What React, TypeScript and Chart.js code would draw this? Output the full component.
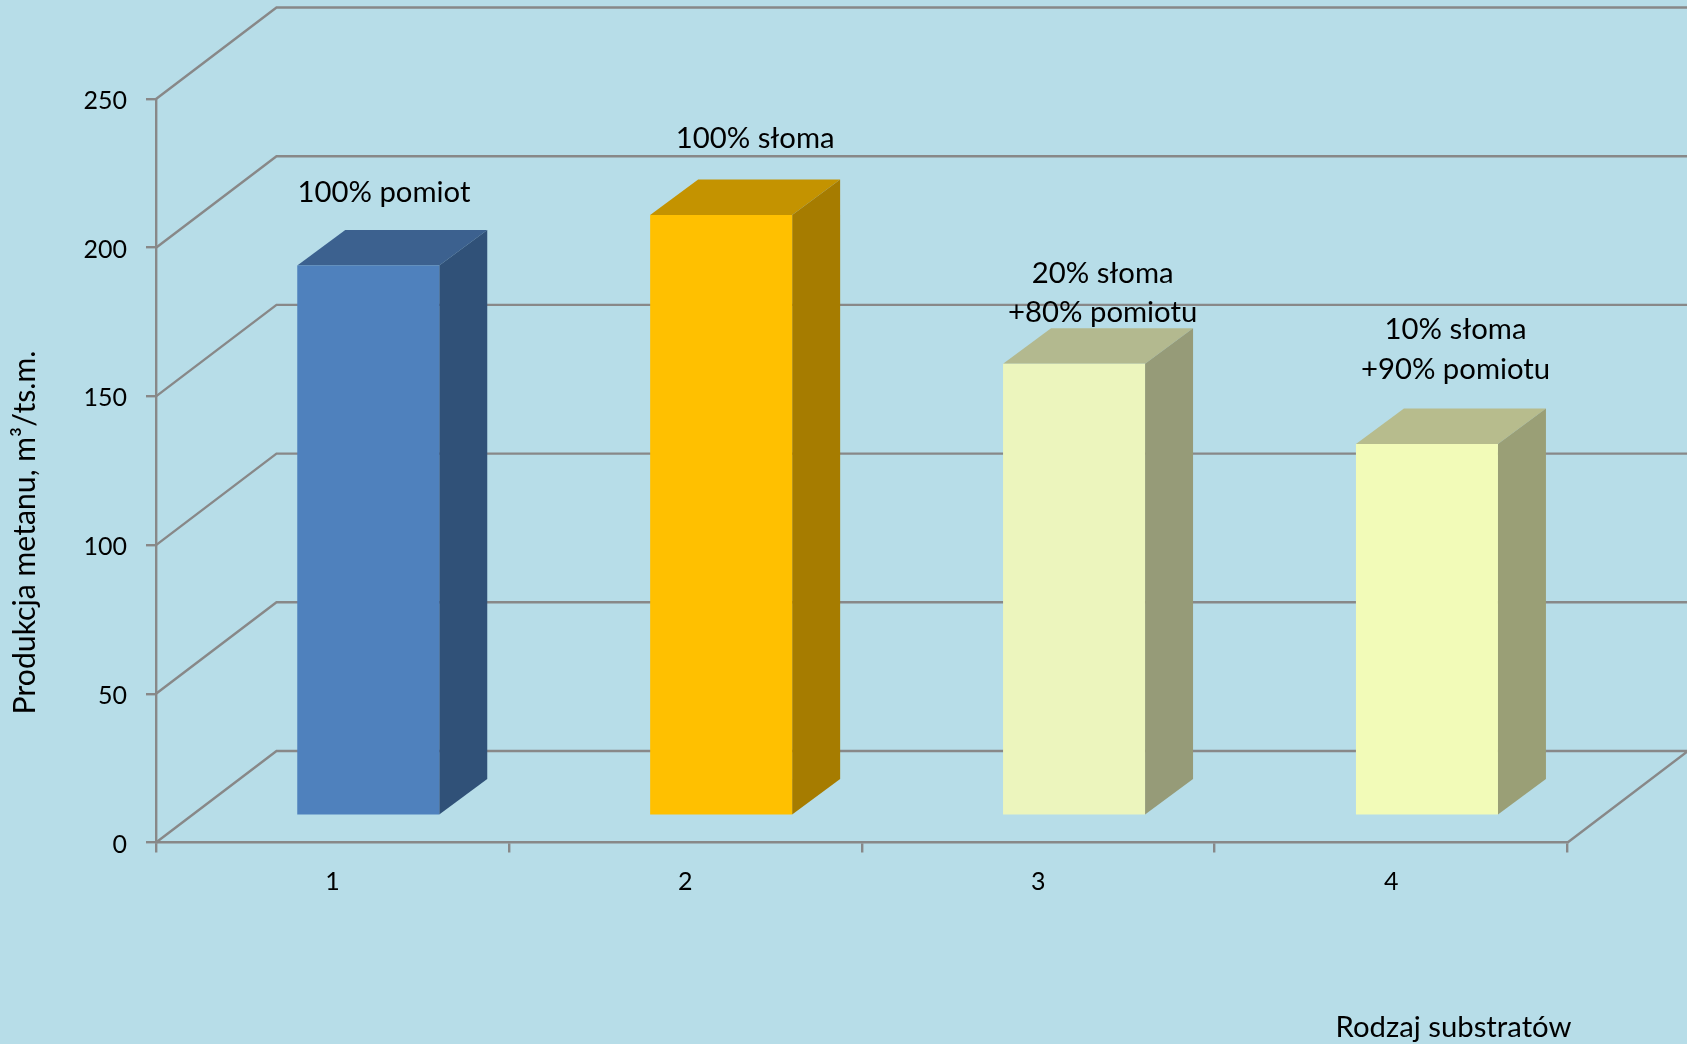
import React, { useEffect, useRef } from "react";
import { Chart, registerables } from "chart.js";

Chart.register(...registerables);

// Methane yield per substrate mix
const categories = ["1", "2", "3", "4"];
const methaneYield = [185, 202, 152, 125];
const yTicks = [0, 50, 100, 150, 200, 250];
const barNotes = [
  ["100% pomiot"],
  ["100% słoma"],
  ["20% słoma", "+80% pomiotu"],
  ["10% słoma", "+90% pomiotu"],
];
const yTitle = "Produkcja metanu, m³/ts.m.";
const xTitle = "Rodzaj substratów";

// Face colours of the extruded columns
const frontColors = ["#4F81BD", "#FFC000", "#ECF5BD", "#F2FBB8"];
const topColors = ["#3C618F", "#C49300", "#B3B98F", "#B7BC8D"];
const sideColors = ["#305178", "#A67C00", "#969B78", "#9A9F76"];

// Pixel offsets of each note's first line from its column top
const noteDx = [51.5, 69.8, 64.4, 64.4];
const noteDy = [-100, -103, -117, -141];
const NOTE_LINE = 39.5;

const BG = "#B7DDE8";
const GRID = "#888888";
const FONT = "Lato, Carlito, sans-serif";
const TICK_SIZE = 25;
const TEXT_SIZE = 29.3;
const Y_TITLE_SIZE = 30.2;

const W = 1687;
const H = 1044;
const AREA_LEFT = 156;
const AREA_RIGHT = 1567.6;
const AREA_TOP = 99;
const AREA_BOTTOM = 842.5;

// Perspective of the box the chart stands in
const WALL_DX = 120.5;
const WALL_DY = 91.5;
// Where the column fronts sit inside that box, and how deep they are
const FRONT_DX = 35.8;
const FRONT_DY = 26.8;
const BAR_DX = 48;
const BAR_DY = 35.5;

const polygon = (ctx: CanvasRenderingContext2D, pts: number[][], fill: string) => {
  ctx.beginPath();
  pts.forEach(([x, y], i) => (i ? ctx.lineTo(x, y) : ctx.moveTo(x, y)));
  ctx.closePath();
  ctx.fillStyle = fill;
  ctx.fill();
};

const box3d = {
  id: "box3d",
  beforeDatasetsDraw(chart: any) {
    const { ctx, scales, chartArea } = chart;
    ctx.save();
    ctx.strokeStyle = GRID;
    ctx.lineWidth = 2.4;
    ctx.beginPath();
    yTicks.forEach((v) => {
      const y = scales.y.getPixelForValue(v);
      ctx.moveTo(chartArea.left, y);
      ctx.lineTo(chartArea.left + WALL_DX, y - WALL_DY);
      ctx.lineTo(chart.width, y - WALL_DY);
    });
    ctx.moveTo(chartArea.right, chartArea.bottom);
    ctx.lineTo(chartArea.right + WALL_DX, chartArea.bottom - WALL_DY);
    ctx.stroke();
    ctx.restore();

    // Column fronts are drawn by the bar elements inside this translation
    ctx.save();
    ctx.translate(FRONT_DX, -FRONT_DY);
    chart.getDatasetMeta(0).data.forEach((bar: any, i: number) => {
      const l = bar.x - bar.width / 2;
      const r = bar.x + bar.width / 2;
      polygon(ctx, [[l, bar.y], [l + BAR_DX, bar.y - BAR_DY], [r + BAR_DX, bar.y - BAR_DY], [r, bar.y]], topColors[i]);
      polygon(ctx, [[r, bar.y], [r + BAR_DX, bar.y - BAR_DY], [r + BAR_DX, bar.base - BAR_DY], [r, bar.base]], sideColors[i]);
    });
  },
  afterDatasetsDraw(chart: any) {
    const { ctx } = chart;
    ctx.restore();

    ctx.save();
    ctx.fillStyle = "#000000";
    ctx.font = `${TEXT_SIZE}px ${FONT}`;
    ctx.textAlign = "center";
    ctx.textBaseline = "middle";
    chart.getDatasetMeta(0).data.forEach((bar: any, i: number) => {
      barNotes[i].forEach((line, k) => {
        ctx.fillText(line, bar.x + noteDx[i], bar.y + noteDy[i] + k * NOTE_LINE);
      });
    });
    ctx.fillText(xTitle, 1453.5, 1028);
    ctx.font = `${Y_TITLE_SIZE}px ${FONT}`;
    ctx.translate(25, 532.5);
    ctx.rotate(-Math.PI / 2);
    ctx.fillText(yTitle, 0, 0);
    ctx.restore();
  },
};

export default function App() {
  const canvasRef = useRef<HTMLCanvasElement>(null);

  useEffect(() => {
    document.body.style.margin = "0";
    document.body.style.background = BG;
    const chart = new Chart(canvasRef.current!, {
      type: "bar",
      data: {
        labels: categories,
        datasets: [
          {
            data: methaneYield,
            backgroundColor: frontColors,
            borderWidth: 0,
            barPercentage: 142 / 352.9,
            categoryPercentage: 1,
            clip: false,
          } as any,
        ],
      },
      options: {
        animation: false,
        responsive: false,
        layout: { padding: { top: AREA_TOP, right: W - AREA_RIGHT, left: 0, bottom: 0 } },
        plugins: { legend: { display: false }, tooltip: { enabled: false }, title: { display: false } },
        scales: {
          x: {
            afterFit: (s: any) => {
              s.height = H - AREA_BOTTOM;
            },
            grid: { drawOnChartArea: false, color: GRID, lineWidth: 2.4, tickLength: 10 },
            border: { color: GRID, width: 2.4 },
            ticks: { color: "#000000", padding: 14, font: { family: FONT, size: TICK_SIZE }, maxRotation: 0 },
          },
          y: {
            min: 0,
            max: 250,
            afterFit: (s: any) => {
              s.width = AREA_LEFT;
            },
            afterBuildTicks: (s: any) => {
              s.ticks = yTicks.map((value) => ({ value }));
            },
            // Lato sits a little high on its middle baseline, so nudge the value labels down
            afterUpdate: (s: any) => {
              const items = s.getLabelItems.bind(s);
              s.getLabelItems = (area: any) =>
                items(area).map((it: any) => ({
                  ...it,
                  options: { ...it.options, translation: [it.options.translation[0], it.options.translation[1] + 1] },
                }));
            },
            grid: { drawOnChartArea: false, color: GRID, lineWidth: 2.4, tickLength: 10 },
            border: { color: GRID, width: 2.4 },
            ticks: { color: "#000000", padding: 19, font: { family: FONT, size: TICK_SIZE } },
          },
        },
      },
      plugins: [box3d],
    } as any);
    return () => chart.destroy();
  }, []);

  return (
    <div style={{ position: "absolute", left: 0, top: 0, width: W, height: H, background: BG, overflow: "hidden" }}>
      <canvas ref={canvasRef} width={W} height={H} style={{ display: "block" }} />
    </div>
  );
}
